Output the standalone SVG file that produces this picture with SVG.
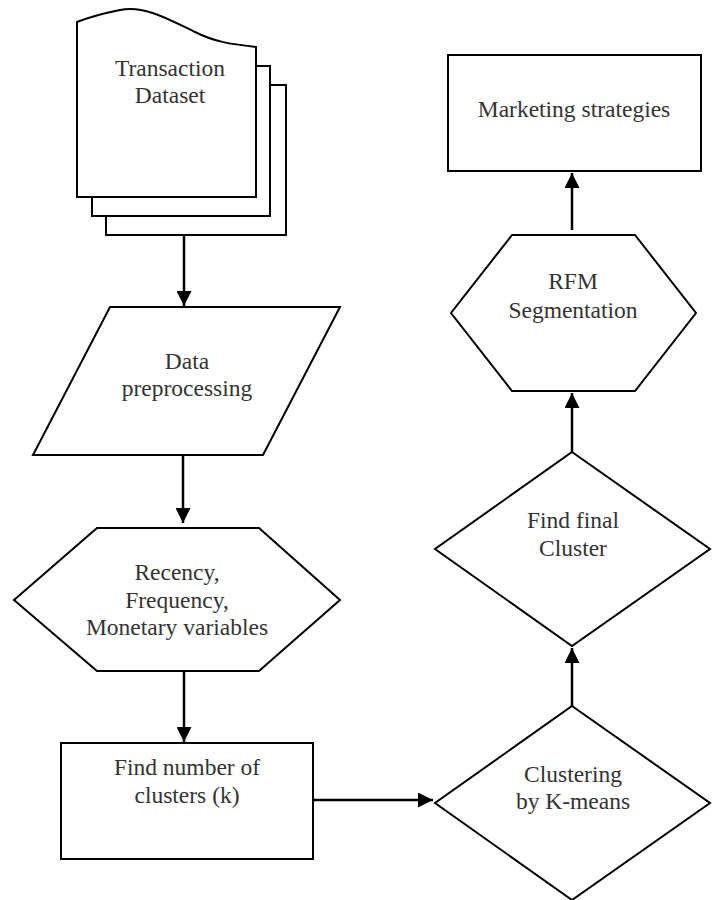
<svg xmlns="http://www.w3.org/2000/svg" width="716" height="900" viewBox="0 0 716 900">
<defs>
<style>
.shape{fill:#fff;stroke:#000;stroke-width:2;stroke-linejoin:miter}
.lbl{font-family:"Liberation Serif","Times New Roman",serif;font-size:23.5px;fill:#333;text-anchor:middle}
.conn{stroke:#000;stroke-width:2.5;fill:none}
</style>
<marker id="ah" viewBox="0 0 10 10" refX="10" refY="5" markerWidth="15" markerHeight="15" markerUnits="userSpaceOnUse" orient="auto">
<path d="M0,0 L10,5 L0,10 z" fill="#000"/>
</marker>
</defs>
<rect width="716" height="900" fill="#fff"/>
<g id="dataset">
<rect class="shape" x="106" y="85" width="180" height="150"/>
<rect class="shape" x="92" y="66" width="178" height="150"/>
<path class="shape" d="M77,22 C95,15 105,13 120,10 C145,5 170,20 195,32 C215,42 230,44 256,47 L256,197 L77,197 Z"/>
<text class="lbl" x="170" y="76">Transaction</text>
<text class="lbl" x="170" y="103">Dataset</text>
</g>
<g id="preprocessing">
<path class="shape" d="M110,307 L340,307 L263,455 L33,455 Z"/>
<text class="lbl" x="187" y="369">Data</text>
<text class="lbl" x="187" y="396">preprocessing</text>
</g>
<g id="rfm-variables">
<path class="shape" d="M97,528 L259,528 L340,600 L259,671 L97,671 L14,600 Z"/>
<text class="lbl" x="177" y="580">Recency,</text>
<text class="lbl" x="177" y="608">Frequency,</text>
<text class="lbl" x="177" y="635">Monetary variables</text>
</g>
<g id="find-k">
<rect class="shape" x="61" y="743" width="252" height="116"/>
<text class="lbl" x="187" y="775">Find number of</text>
<text class="lbl" x="187" y="803">clusters (k)</text>
</g>
<g id="kmeans">
<path class="shape" d="M572,706 L710,803 L572,900 L435,803 Z"/>
<text class="lbl" x="573" y="782">Clustering</text>
<text class="lbl" x="573" y="809">by K-means</text>
</g>
<g id="final-cluster">
<path class="shape" d="M572,452 L710,549 L572,646 L435,549 Z"/>
<text class="lbl" x="573" y="528">Find final</text>
<text class="lbl" x="573" y="556">Cluster</text>
</g>
<g id="rfm-segmentation">
<path class="shape" d="M512,235 L635,235 L696,313 L635,391 L512,391 L451,313 Z"/>
<text class="lbl" x="573" y="289">RFM</text>
<text class="lbl" x="573" y="318">Segmentation</text>
</g>
<g id="marketing">
<rect class="shape" x="448" y="55" width="253" height="116"/>
<text class="lbl" x="574" y="117">Marketing strategies</text>
</g>
<g id="connectors">
<line class="conn" x1="184" y1="235" x2="184" y2="306" marker-end="url(#ah)"/>
<line class="conn" x1="183" y1="455" x2="183" y2="523" marker-end="url(#ah)"/>
<line class="conn" x1="184" y1="671" x2="184" y2="742" marker-end="url(#ah)"/>
<line class="conn" x1="313" y1="800" x2="433" y2="800" marker-end="url(#ah)"/>
<line class="conn" x1="572" y1="706" x2="572" y2="648" marker-end="url(#ah)"/>
<line class="conn" x1="572" y1="452" x2="572" y2="393" marker-end="url(#ah)"/>
<line class="conn" x1="572" y1="230" x2="572" y2="173" marker-end="url(#ah)"/>
</g>
</svg>
